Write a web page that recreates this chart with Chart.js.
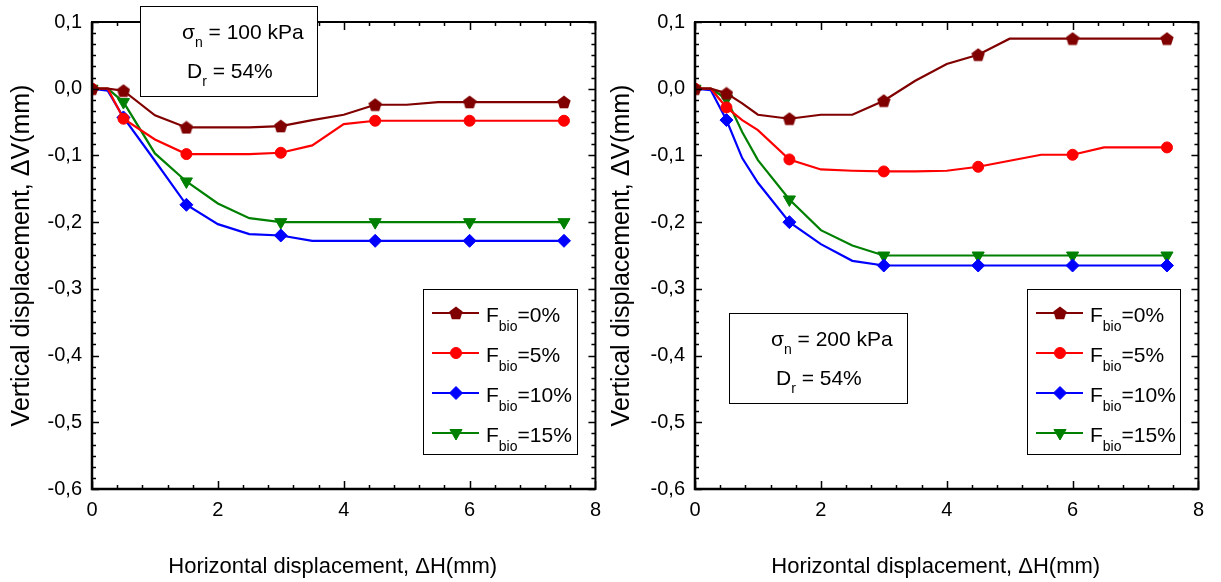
<!DOCTYPE html>
<html>
<head>
<meta charset="utf-8">
<title>Vertical vs horizontal displacement</title>
<script src="https://cdn.jsdelivr.net/npm/chart.js@4.4.1/dist/chart.umd.min.js"></script>
<style>
  body { margin: 0; background: #fff; }
  .panel { position: absolute; top: 0; width: 610px; height: 582px; }
  #panelLeft { left: 0; }
  #panelRight { left: 603px; }
</style>
</head>
<body>
<div class="panel" id="panelLeft"><canvas id="chartLeft" width="610" height="582"></canvas></div>
<div class="panel" id="panelRight"><canvas id="chartRight" width="610" height="582"></canvas></div>

<script>
// horizontal displacement (mm) at which readings were taken
var leftDisp = [0, 0.25, 0.5, 1, 1.5, 2, 2.5, 3, 3.5, 4, 4.5, 5, 5.5, 6, 6.5, 7, 7.5];
var rightDisp = [0, 0.25, 0.5, 0.75, 1, 1.5, 2, 2.5, 3, 3.5, 4, 4.5, 5, 5.5, 6, 6.5, 7, 7.5];

// sigma_n = 100 kPa, vertical displacement (mm)
var left0 = [0, 0, -0.003, -0.040, -0.058, -0.058, -0.058, -0.056, -0.047, -0.039, -0.024, -0.024, -0.020, -0.020, -0.020, -0.020, -0.020];
var left5 = [0, 0, -0.045, -0.076, -0.098, -0.098, -0.098, -0.096, -0.085, -0.053, -0.048, -0.048, -0.048, -0.048, -0.048, -0.048, -0.048];
var left10 = [0, -0.003, -0.043, -0.108, -0.174, -0.203, -0.218, -0.220, -0.228, -0.228, -0.228, -0.228, -0.228, -0.228, -0.228, -0.228, -0.228];
var left15 = [0, 0, -0.020, -0.097, -0.139, -0.172, -0.194, -0.200, -0.200, -0.200, -0.200, -0.200, -0.200, -0.200, -0.200, -0.200, -0.200];

// sigma_n = 200 kPa, vertical displacement (mm)
var right0 = [0, 0, -0.007, -0.022, -0.039, -0.045, -0.039, -0.039, -0.018, 0.012, 0.037, 0.051, 0.075, 0.075, 0.075, 0.075, 0.075, 0.075];
var right5 = [0, 0, -0.028, -0.047, -0.062, -0.106, -0.121, -0.123, -0.124, -0.124, -0.123, -0.117, -0.108, -0.099, -0.099, -0.088, -0.088, -0.088];
var right10 = [0, -0.002, -0.047, -0.104, -0.141, -0.200, -0.233, -0.258, -0.265, -0.265, -0.265, -0.265, -0.265, -0.265, -0.265, -0.265, -0.265, -0.265];
var right15 = [0, 0, -0.015, -0.065, -0.107, -0.166, -0.212, -0.235, -0.250, -0.250, -0.250, -0.250, -0.250, -0.250, -0.250, -0.250, -0.250, -0.250];

var fbioLabels = ['0%', '5%', '10%', '15%'];
var markedDisp = [0, 0.5, 1.5, 3, 4.5, 6, 7.5];
var xTickValues = [0, 2, 4, 6, 8];
var yTickValues = [-0.6, -0.5, -0.4, -0.3, -0.2, -0.1, 0, 0.1];

var FONT = '"Liberation Sans", Arial, sans-serif';

function pentagonImage(color, size) {
  var c = document.createElement('canvas');
  c.width = size;
  c.height = size;
  var g = c.getContext('2d');
  var r = size / 2;
  g.fillStyle = color;
  g.beginPath();
  for (var k = 0; k < 5; k++) {
    var a = -Math.PI / 2 + k * 2 * Math.PI / 5;
    var px = r + r * Math.cos(a);
    var py = r + 0.6 + r * Math.sin(a);
    if (k === 0) g.moveTo(px, py); else g.lineTo(px, py);
  }
  g.closePath();
  g.fill();
  return c;
}

var seriesStyles = [
  { color: '#800000', pointStyle: pentagonImage('#800000', 14), radius: 6, rotation: 0 },
  { color: '#ff0000', pointStyle: 'circle', radius: 5.5, rotation: 0 },
  { color: '#0000ff', pointStyle: 'rectRot', radius: 6.5, rotation: 0 },
  { color: '#008000', pointStyle: 'triangle', radius: 7, rotation: 180 }
];

function buildDatasets(disp, seriesList) {
  return seriesList.map(function (values, i) {
    var st = seriesStyles[i];
    return {
      label: 'Fbio=' + fbioLabels[i],
      data: disp.map(function (x, j) { return { x: x, y: values[j] }; }),
      borderColor: st.color,
      backgroundColor: st.color,
      borderWidth: 2.2,
      tension: 0,
      pointStyle: st.pointStyle,
      pointRotation: st.rotation,
      pointBorderWidth: 1,
      pointRadius: function (ctx) {
        return markedDisp.indexOf(ctx.parsed.x) >= 0 ? st.radius : 0;
      }
    };
  });
}

function richText(ctx, parts, x, baseline) {
  parts.forEach(function (p) {
    ctx.font = p.size + 'px ' + FONT;
    ctx.fillText(p.t, x, baseline + (p.dy || 0));
    x += ctx.measureText(p.t).width;
  });
}

// frame round the plot with inward major and minor ticks on all four sides
var axisFrame = {
  id: 'axisFrame',
  afterDatasetsDraw: function (chart) {
    var ctx = chart.ctx, a = chart.chartArea;
    var xs = chart.scales.x, ys = chart.scales.y;
    ctx.save();
    ctx.strokeStyle = '#000';
    ctx.lineWidth = 1.5;
    ctx.beginPath();
    for (var i = 0; i <= 42; i++) {
      var py = Math.round(ys.getPixelForValue(-0.6 + i * 0.1 / 6)) + 0.5;
      var len = i % 6 === 0 ? 7 : 4;
      ctx.moveTo(a.left, py); ctx.lineTo(a.left + len, py);
      ctx.moveTo(a.right, py); ctx.lineTo(a.right - len, py);
    }
    for (var j = 0; j <= 20; j++) {
      var px = Math.round(xs.getPixelForValue(j * 0.4)) + 0.5;
      var l2 = j % 5 === 0 ? 8 : 4;
      ctx.moveTo(px, a.bottom); ctx.lineTo(px, a.bottom - l2);
      ctx.moveTo(px, a.top); ctx.lineTo(px, a.top + l2);
    }
    ctx.stroke();
    ctx.lineWidth = 2;
    ctx.strokeRect(a.left, a.top, a.right - a.left, a.bottom - a.top);
    // left and bottom axes a little heavier
    ctx.lineWidth = 2.5;
    ctx.beginPath();
    ctx.moveTo(a.left, a.top);
    ctx.lineTo(a.left, a.bottom);
    ctx.lineTo(a.right, a.bottom);
    ctx.stroke();
    ctx.restore();
  }
};

// axis titles, the test-condition box and the Fbio legend
var panelDecor = {
  id: 'panelDecor',
  afterDraw: function (chart, args, opts) {
    var ctx = chart.ctx, a = chart.chartArea;
    ctx.save();
    ctx.fillStyle = '#000';

    // axis titles
    ctx.textAlign = 'center';
    ctx.textBaseline = 'middle';
    ctx.font = '22px ' + FONT;
    ctx.fillText('Horizontal displacement, \u0394H(mm)', (a.left + a.right) / 2 - 11, 567);
    ctx.save();
    ctx.translate(opts.yTitleX, (a.top + a.bottom) / 2);
    ctx.rotate(-Math.PI / 2);
    ctx.font = '25px ' + FONT;
    ctx.fillText('Vertical displacement, \u0394V(mm)', 0, 0);
    ctx.restore();

    ctx.textAlign = 'left';
    ctx.textBaseline = 'alphabetic';

    // test-condition box
    var b = opts.box;
    ctx.fillStyle = '#fff';
    ctx.fillRect(b.x, b.y, b.w, b.h);
    ctx.strokeStyle = '#000';
    ctx.lineWidth = 1;
    ctx.strokeRect(b.x + 0.5, b.y + 0.5, b.w, b.h);
    ctx.fillStyle = '#000';
    richText(ctx, [{ t: '\u03c3', size: 21 }, { t: 'n', size: 14, dy: 8 }, { t: ' = ' + b.stress + ' kPa', size: 21 }], b.x + 42, b.y + 33);
    richText(ctx, [{ t: 'D', size: 21 }, { t: 'r', size: 14, dy: 8 }, { t: ' = 54%', size: 21 }], b.x + 47, b.y + 72);

    // legend
    var L = opts.legend;
    ctx.fillStyle = '#fff';
    ctx.fillRect(L.x, L.y, L.w, L.h);
    ctx.strokeStyle = '#000';
    ctx.strokeRect(L.x + 0.5, L.y + 0.5, L.w, L.h);
    chart.data.datasets.forEach(function (ds, i) {
      var st = seriesStyles[i];
      var base = L.y + 33 + i * 40;
      var ly = base - 9;
      ctx.strokeStyle = st.color;
      ctx.fillStyle = st.color;
      ctx.lineWidth = 2.2;
      ctx.beginPath();
      ctx.moveTo(L.x + 9, ly);
      ctx.lineTo(L.x + 56, ly);
      ctx.stroke();
      ctx.lineWidth = 1;
      Chart.helpers.drawPoint(ctx, {
        pointStyle: st.pointStyle, radius: st.radius, rotation: st.rotation, borderWidth: 1
      }, L.x + 33, ly);
      ctx.fillStyle = '#000';
      richText(ctx, [{ t: 'F', size: 21 }, { t: 'bio', size: 14, dy: 9 }, { t: '=' + fbioLabels[i], size: 21 }], L.x + 63, base);
    });
    ctx.restore();
  }
};

function makeChart(id, disp, seriesList, decor) {
  return new Chart(document.getElementById(id), {
    type: 'line',
    data: { datasets: buildDatasets(disp, seriesList) },
    options: {
      responsive: false,
      animation: false,
      events: [],
      layout: { padding: { top: 20, right: 11, left: 0, bottom: 0 } },
      plugins: {
        legend: { display: false },
        tooltip: { enabled: false },
        panelDecor: decor
      },
      scales: {
        x: {
          type: 'linear',
          min: 0,
          max: 8,
          afterFit: function (s) { s.height = 93; },
          afterBuildTicks: function (s) { s.ticks = xTickValues.map(function (v) { return { value: v }; }); },
          grid: { display: false, drawTicks: false },
          border: { display: false },
          ticks: {
            padding: 9,
            color: '#000',
            font: { family: FONT, size: 20 },
            callback: function (v) { return String(v); }
          }
        },
        y: {
          type: 'linear',
          min: -0.6,
          max: 0.1,
          afterFit: function (s) { s.width = 92; },
          afterBuildTicks: function (s) { s.ticks = yTickValues.map(function (v) { return { value: v }; }); },
          grid: { display: false, drawTicks: false },
          border: { display: false },
          ticks: {
            padding: 10,
            color: '#000',
            font: { family: FONT, size: 20 },
            callback: function (v) {
              return Math.abs(v) < 1e-9 ? '0,0' : v.toFixed(1).replace('.', ',');
            }
          }
        }
      }
    },
    plugins: [axisFrame, panelDecor]
  });
}

makeChart('chartLeft', leftDisp, [left0, left5, left10, left15], {
  yTitleX: 22,
  box: { x: 140, y: 6, w: 177, h: 90, stress: '100' },
  legend: { x: 423, y: 289, w: 154, h: 165 }
});

makeChart('chartRight', rightDisp, [right0, right5, right10, right15], {
  yTitleX: 19,
  box: { x: 126, y: 313, w: 178, h: 90, stress: '200' },
  legend: { x: 424, y: 289, w: 153, h: 165 }
});
</script>
</body>
</html>
